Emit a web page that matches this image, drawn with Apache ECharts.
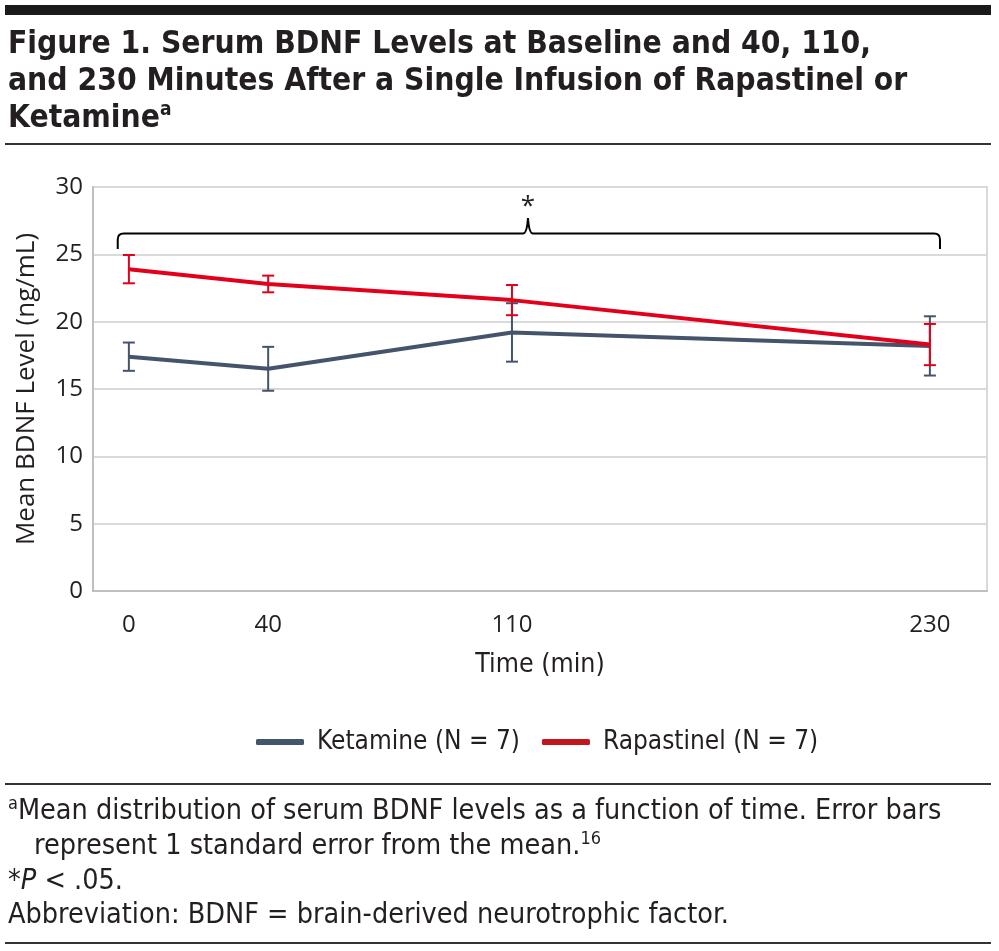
<!DOCTYPE html>
<html>
<head>
<meta charset="utf-8">
<script src="https://cdn.jsdelivr.net/npm/echarts@6/dist/echarts.min.js"></script>
<style>
html,body{margin:0;padding:0;background:#fff;}
#chart{width:999px;height:951px;}
</style>
</head>
<body>
<div id="chart"></div>
<script>
// ---- data ----
const times = [0, 40, 110, 230];
const xTickLabels = [0, 40, 110, 230];
const yTicks = [0, 5, 10, 15, 20, 25, 30];
const seriesNames = ['Ketamine (N = 7)', 'Rapastinel (N = 7)'];
const ketamineMean = [17.4, 16.5, 19.2, 18.2];
const ketamineSE = [1.05, 1.63, 2.17, 2.2];
const rapastinelMean = [23.9, 22.8, 21.6, 18.3];
const rapastinelSE = [1.05, 0.62, 1.12, 1.53];
// significance brace: [left, peak, right] times, [end level, bar level, peak level]
const braceX = [-3.2, 114.6, 232.9];
const braceY = [25.4, 26.55, 27.7];
const starLabel = '*';

const BLUE = '#44546a';
const RED = '#e3001b';
const TXT = '#231f20';
const NARROW = '"Liberation Sans Narrow","DejaVu Sans Condensed",sans-serif';
const WIDE = '"Open Sans","Noto Sans",sans-serif';

const chart = echarts.init(document.getElementById('chart'), null, {renderer: 'canvas'});

function pts(mean) { return times.map((t, i) => [t, mean[i]]); }
function errs(mean, se) { return times.map((t, i) => [t, mean[i] - se[i], mean[i] + se[i]]); }

function errRender(color) {
  return function (params, api) {
    const x = api.value(0);
    const lo = api.coord([x, api.value(1)]);
    const hi = api.coord([x, api.value(2)]);
    const hw = 6;
    const st = {stroke: color, lineWidth: 2};
    return {
      type: 'group',
      children: [
        {type: 'line', shape: {x1: lo[0], y1: lo[1], x2: hi[0], y2: hi[1]}, style: st},
        {type: 'line', shape: {x1: lo[0] - hw, y1: lo[1], x2: lo[0] + hw, y2: lo[1]}, style: st},
        {type: 'line', shape: {x1: hi[0] - hw, y1: hi[1], x2: hi[0] + hw, y2: hi[1]}, style: st}
      ]
    };
  };
}

function braceRender(params, api) {
  const pL = api.coord([braceX[0], braceY[0]]);
  const pLb = api.coord([braceX[0], braceY[1]]);
  const pM = api.coord([braceX[1], braceY[1]]);
  const pT = api.coord([braceX[1], braceY[2]]);
  const pR = api.coord([braceX[2], braceY[0]]);
  const pRb = api.coord([braceX[2], braceY[1]]);
  const r = 6;
  const y = pLb[1];
  const d = [
    'M', pL[0], pL[1],
    'L', pL[0], y + r,
    'Q', pL[0], y, pL[0] + r, y,
    'L', pM[0] - 5, y,
    'Q', pM[0] - 1, y, pM[0], pT[1],
    'Q', pM[0] + 1, y, pM[0] + 5, y,
    'L', pRb[0] - r, y,
    'Q', pRb[0], y, pRb[0], y + r,
    'L', pR[0], pR[1]
  ].join(' ');
  const star = api.coord([braceX[1], braceY[2]]);
  return {
    type: 'group',
    children: [
      {type: 'path', shape: {pathData: d}, style: {stroke: '#000', fill: null, lineWidth: 2}},
      {type: 'text', x: star[0], y: star[1] + 2, style: {text: starLabel, font: '26px ' + WIDE, fill: TXT, align: 'center', verticalAlign: 'bottom'}}
    ]
  };
}

function hline(y, h, color) {
  return {type: 'rect', shape: {x: 5, y: y, width: 986, height: h}, style: {fill: color}, silent: true};
}
function txt(x, y, rich, text) {
  return {type: 'text', x: x, y: y, style: {text: text, rich: rich, verticalAlign: 'middle', fill: TXT}};
}

const titleRich = {
  m: {font: 'bold 31.5px ' + NARROW, fill: TXT, lineHeight: 37},
  s: {font: 'bold 19px ' + NARROW, fill: TXT, verticalAlign: 'top', lineHeight: 37}
};
const noteRich = {
  m: {font: '28.5px ' + NARROW, fill: TXT, lineHeight: 34},
  i: {font: 'italic 28.5px ' + NARROW, fill: TXT, lineHeight: 34},
  s: {font: '18px ' + NARROW, fill: TXT, verticalAlign: 'top', lineHeight: 34}
};

const option = {
  animation: false,
  backgroundColor: '#fff',
  grid: {left: 93, right: 12, top: 187, bottom: 360, show: true, borderColor: '#d9d9d9', borderWidth: 2},
  xAxis: {
    type: 'value', min: -10.3, max: 246.4,
    axisLine: {show: true, onZero: false, lineStyle: {color: '#bfbfbf', width: 2}},
    axisTick: {show: false},
    splitLine: {show: false},
    axisLabel: {customValues: xTickLabels, margin: 22, fontFamily: WIDE, fontSize: 24, color: TXT},
    name: 'Time (min)', nameLocation: 'middle', nameGap: 61,
    nameTextStyle: {fontFamily: NARROW, fontSize: 26.5, color: TXT}
  },
  yAxis: {
    type: 'value', min: 0, max: 30, interval: 5,
    axisLine: {show: true, onZero: false, lineStyle: {color: '#bfbfbf', width: 2}},
    axisTick: {show: false},
    splitLine: {show: true, lineStyle: {color: '#d9d9d9', width: 2}},
    axisLabel: {margin: 10, fontFamily: WIDE, fontSize: 24, color: TXT, formatter: v => yTicks.includes(v) ? String(v) : ''},
    name: 'Mean BDNF Level (ng/mL)', nameLocation: 'middle', nameRotate: 90, nameGap: 53,
    nameTextStyle: {fontFamily: WIDE, fontSize: 26, color: TXT}
  },
  legend: {
    left: 251, top: 724, itemWidth: 48, itemHeight: 6, itemGap: 22, icon: 'roundRect',
    data: [
      {name: seriesNames[0], itemStyle: {color: '#44546a'}},
      {name: seriesNames[1], itemStyle: {color: '#c0161e'}}
    ],
    textStyle: {fontFamily: NARROW, fontSize: 26, color: TXT, padding: [0, 0, 0, 8]}
  },
  series: [
    {name: seriesNames[0], type: 'line', data: pts(ketamineMean), symbol: 'none', lineStyle: {color: BLUE, width: 4}, itemStyle: {color: BLUE}, z: 3},
    {name: seriesNames[1], type: 'line', data: pts(rapastinelMean), symbol: 'none', lineStyle: {color: RED, width: 4}, itemStyle: {color: RED}, z: 4},
    {name: 'kErr', type: 'custom', data: errs(ketamineMean, ketamineSE), renderItem: errRender(BLUE), z: 5},
    {name: 'rErr', type: 'custom', data: errs(rapastinelMean, rapastinelSE), renderItem: errRender(RED), z: 6},
    {name: 'brace', type: 'custom', data: [[braceX[1], braceY[1]]], renderItem: braceRender, z: 7, silent: true}
  ],
  graphic: [
    hline(5, 10, '#1a1a1a'),
    txt(8, 45, titleRich, '{m|Figure 1. Serum BDNF Levels at Baseline and 40, 110,}'),
    txt(8, 82, titleRich, '{m|and 230 Minutes After a Single Infusion of Rapastinel or}'),
    txt(8, 119, titleRich, '{m|Ketamine}{s|a}'),
    hline(143, 2, '#333'),
    hline(783, 2, '#333'),
    txt(8, 812, noteRich, '{s|a}{m|Mean distribution of serum BDNF levels as a function of time. Error bars}'),
    txt(34, 847, noteRich, '{m|represent 1 standard error from the mean.}{s|16}'),
    txt(8, 882, noteRich, '{m|*}{i|P}{m| < .05.}'),
    txt(8, 916, noteRich, '{m|Abbreviation: BDNF = brain-derived neurotrophic factor.}'),
    hline(942, 2, '#333')
  ]
};
chart.setOption(option);
</script>
</body>
</html>
